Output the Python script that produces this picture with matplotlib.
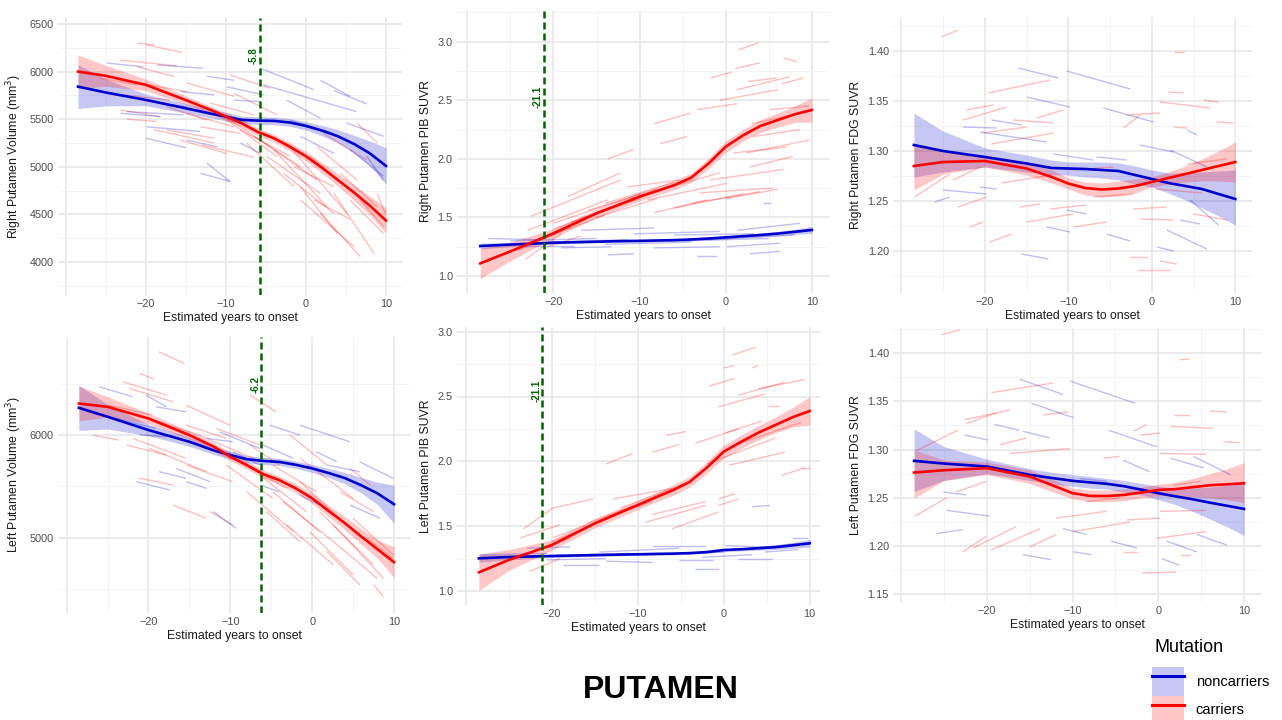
import matplotlib.pyplot as plt
from matplotlib.collections import LineCollection
from matplotlib.lines import Line2D
from matplotlib.patches import Patch
from matplotlib.ticker import FixedLocator, FormatStrFormatter

plt.rcParams["font.family"] = ["Liberation Sans", "DejaVu Sans"]

RED = "#ff0000"
BLUE = "#0000cd"
GREEN = "#006400"

# smooth fits are read at these years-to-onset values
curve_x = [-28.5, -25, -20, -15, -12, -10, -8, -6, -4, -2, 0, 2, 4, 6, 8, 10]

# ---- Right putamen volume
rvol_car = [6000, 5955, 5860, 5700, 5600, 5527, 5455, 5365, 5300, 5210, 5110, 4990, 4860, 4730, 4590, 4435]
rvol_car_hw = [175, 110, 60, 45, 40, 40, 40, 40, 40, 45, 50, 55, 65, 80, 100, 130]
rvol_non = [5842, 5780, 5702, 5614, 5560, 5527, 5492, 5485, 5482, 5465, 5429, 5380, 5320, 5240, 5140, 5009]
rvol_non_hw = [230, 140, 60, 50, 45, 45, 40, 40, 40, 40, 45, 55, 70, 90, 130, 190]
rvol_car_segs = [
    (-21.1, 6300, -19.0, 6280), (-19.9, 6280, -15.5, 6200), (-23.2, 6120, -16.1, 6060),
    (-21.1, 6050, -16.5, 5950), (-25.7, 5930, -21.1, 5860), (-22.4, 5500, -18.6, 5475),
    (-19.0, 5390, -11.5, 5250), (-15.7, 5280, -9.9, 5140), (-14.9, 5880, -9.0, 5740),
    (-12.0, 5670, -6.5, 5545), (-9.5, 5965, -4.5, 5825), (-9.0, 5770, -3.6, 5545),
    (-8.2, 5390, -2.0, 5110), (-6.5, 5320, -0.7, 5000), (-5.7, 5280, 1.4, 4860),
    (-4.9, 5110, 1.8, 4720), (-2.8, 4930, 3.5, 4510), (-1.5, 5000, 3.5, 4790),
    (-0.7, 4790, 3.9, 4300), (1.4, 5210, 6.4, 4860), (2.2, 5350, 7.6, 5070),
    (3.5, 4720, 8.5, 4090), (5.5, 4650, 9.7, 4300), (6.4, 5460, 8.9, 5250),
    (8.9, 4720, 9.9, 4510), (4.3, 4930, 8.9, 4580), (0.5, 5110, 6.0, 4720),
    (-22.8, 5755, -17.0, 5700), (-14.9, 5560, -9.0, 5420), (-17.4, 5630, -12.4, 5490),
    (-13.0, 5230, -6.5, 5100), (1.0, 4650, 5.5, 4450), (-11.5, 5597, -5.7, 5282),
    (-9.9, 5492, -3.6, 5107), (-7.4, 5247, -1.5, 4792), (-4.0, 5177, 2.6, 4582),
    (-2.4, 5247, 5.1, 4512), (-0.7, 4652, 6.0, 4162), (1.8, 4512, 6.8, 4057),
    (6.8, 4652, 9.7, 4372), (-23.2, 5597, -18.2, 5527), (-17.4, 5387, -11.5, 5300),
    (-20.7, 5877, -14.9, 5790), (-13.2, 5420, -8.2, 5350),
]
rvol_non_segs = [
    (-24.9, 6090, -20.3, 6050), (-18.6, 6070, -12.8, 6035), (-15.7, 5790, -11.5, 5755),
    (-22.4, 5580, -15.3, 5545), (-19.9, 5420, -13.2, 5370), (-14.9, 5280, -11.1, 5210),
    (-12.4, 5040, -9.5, 4845), (-9.9, 5840, -5.3, 5755), (-9.0, 5700, -5.7, 5685),
    (-5.7, 6035, 1.0, 5810), (-5.3, 5860, 6.3, 5580), (-2.4, 5700, 1.8, 5510),
    (-2.0, 5490, 3.5, 5350), (5.1, 5460, 9.7, 5320), (5.5, 5180, 9.7, 4900),
    (-0.7, 5320, 3.5, 5140), (-8.2, 5250, -5.7, 5140), (-18.2, 5670, -14.9, 5630),
    (-12.4, 5950, -9.0, 5910), (1.8, 5910, 5.5, 5740), (7.6, 5110, 9.7, 4860),
    (-20.0, 5300, -15.0, 5200), (-23.2, 5562, -18.2, 5527), (-13.2, 4932, -9.5, 4845),
    (3.5, 5800, 7.6, 5660),
]

# ---- Right putamen PIB SUVR
rpib_car = [1.108, 1.21, 1.364, 1.535, 1.62, 1.677, 1.725, 1.775, 1.84, 1.96, 2.104, 2.2, 2.28, 2.33, 2.38, 2.417]
rpib_car_hw = [0.13, 0.08, 0.04, 0.035, 0.035, 0.035, 0.035, 0.04, 0.04, 0.045, 0.05, 0.05, 0.055, 0.06, 0.07, 0.105]
rpib_non = [1.256, 1.268, 1.284, 1.293, 1.298, 1.30, 1.303, 1.306, 1.312, 1.32, 1.33, 1.34, 1.35, 1.362, 1.377, 1.393]
rpib_non_hw = [0.025, 0.018, 0.012, 0.01, 0.01, 0.01, 0.01, 0.01, 0.01, 0.01, 0.012, 0.013, 0.015, 0.018, 0.022, 0.03]
rpib_car_segs = [
    (1.5, 2.93, 3.8, 2.99), (-1.8, 2.69, 0.7, 2.74), (1.1, 2.77, 4.0, 2.82),
    (6.7, 2.86, 8.2, 2.83), (2.6, 2.66, 5.9, 2.69), (1.3, 2.59, 7.4, 2.70),
    (-0.7, 2.50, 6.1, 2.59), (-3.3, 2.42, 1.3, 2.47), (-8.3, 2.30, -4.1, 2.39),
    (-7.6, 2.13, -4.5, 2.19), (-13.7, 2.00, -10.7, 2.08), (0.9, 2.05, 7.0, 2.10),
    (2.8, 1.93, 7.8, 2.02), (-1.8, 1.82, 6.7, 1.91), (-3.0, 1.71, 5.5, 1.75),
    (-6.4, 1.76, -0.7, 1.88), (-18.3, 1.68, -12.2, 1.88), (-22.6, 1.51, -12.2, 1.82),
    (-23.0, 1.39, -13.7, 1.65), (-21.8, 1.31, -16.0, 1.51), (-11.4, 1.76, -5.3, 1.82),
    (-9.1, 1.65, 0.1, 1.79), (2.4, 2.05, 9.7, 2.16), (3.2, 2.19, 8.6, 2.25),
    (5.1, 2.42, 9.7, 2.45), (-20.7, 1.25, -16.8, 1.34), (-23.3, 1.14, -19.1, 1.36),
    (-8.3, 1.54, -2.2, 1.65), (6.5, 2.64, 9.0, 2.69), (-20.0, 1.45, -10.0, 1.70),
    (-15.0, 1.50, -8.0, 1.66), (-20.0, 1.40, -12.0, 1.62), (-18.0, 1.46, -10.0, 1.66),
    (-16.0, 1.56, -8.0, 1.74), (-14.0, 1.62, -6.0, 1.80), (-6.0, 1.58, 2.0, 1.70),
    (-4.0, 1.62, 4.0, 1.72), (0.0, 1.66, 6.0, 1.74), (-22.0, 1.30, -14.0, 1.52),
    (-24.0, 1.22, -18.0, 1.42), (3.0, 2.30, 9.5, 2.40),
]
rpib_non_segs = [
    (-27.6, 1.32, -21.8, 1.31), (-20.7, 1.29, -11.4, 1.31), (-19.1, 1.24, -13.3, 1.25),
    (-13.7, 1.18, -10.7, 1.19), (-10.7, 1.36, -0.7, 1.38), (-8.3, 1.24, -0.7, 1.25),
    (-3.3, 1.17, -1.0, 1.17), (0.1, 1.25, 6.3, 1.28), (1.3, 1.39, 8.6, 1.45),
    (4.3, 1.62, 5.3, 1.62), (2.8, 1.19, 6.3, 1.21), (-16.8, 1.39, -8.3, 1.41),
    (-6.0, 1.35, 3.2, 1.36), (-23.7, 1.26, -17.6, 1.26), (-25.0, 1.30, -15.0, 1.32),
    (-5.0, 1.30, 5.0, 1.32), (-22.0, 1.28, -12.0, 1.30), (-14.0, 1.27, -4.0, 1.29),
    (-2.0, 1.31, 8.0, 1.35), (3.0, 1.34, 9.5, 1.39),
]

# ---- Right putamen FDG SUVR
rfdg_car = [1.285, 1.289, 1.290, 1.2825, 1.274, 1.2675, 1.263, 1.2615, 1.2625, 1.265, 1.269, 1.273, 1.277, 1.281, 1.285, 1.289]
rfdg_car_lo = [1.261, 1.277, 1.284, 1.276, 1.268, 1.262, 1.256, 1.254, 1.255, 1.258, 1.264, 1.267, 1.269, 1.270, 1.270, 1.269]
rfdg_car_hi = [1.306, 1.299, 1.296, 1.289, 1.281, 1.273, 1.269, 1.268, 1.270, 1.272, 1.274, 1.279, 1.285, 1.292, 1.300, 1.309]
rfdg_non = [1.306, 1.300, 1.294, 1.2875, 1.283, 1.2825, 1.282, 1.281, 1.280, 1.276, 1.272, 1.268, 1.265, 1.262, 1.257, 1.252]
rfdg_non_lo = [1.274, 1.279, 1.284, 1.279, 1.276, 1.276, 1.274, 1.273, 1.271, 1.267, 1.264, 1.258, 1.251, 1.243, 1.235, 1.226]
rfdg_non_hi = [1.338, 1.320, 1.303, 1.296, 1.291, 1.289, 1.289, 1.289, 1.288, 1.285, 1.281, 1.278, 1.278, 1.279, 1.280, 1.281]
rfdg_car_segs = [
    (-25.2, 1.414, -23.2, 1.421), (-19.6, 1.358, -12.2, 1.371), (-22.6, 1.331, -17.4, 1.344),
    (-22.2, 1.341, -19.0, 1.346), (-13.8, 1.333, -10.6, 1.341), (-16.6, 1.331, -11.8, 1.328),
    (-20.2, 1.318, -15.0, 1.324), (-19.2, 1.307, -11.8, 1.318), (-28.4, 1.254, -24.2, 1.277),
    (-23.8, 1.271, -20.6, 1.284), (-23.2, 1.244, -19.8, 1.254), (-21.8, 1.224, -20.2, 1.229),
    (-19.4, 1.209, -16.8, 1.217), (-15.8, 1.244, -13.4, 1.247), (-15.0, 1.229, -9.4, 1.237),
    (-9.4, 1.224, -5.4, 1.229), (-12.2, 1.242, -7.8, 1.246), (-3.4, 1.323, -1.4, 1.336),
    (-3.0, 1.336, 1.0, 1.338), (-2.2, 1.242, 1.8, 1.244), (-1.4, 1.232, 2.6, 1.231),
    (-2.6, 1.194, -0.6, 1.194), (-1.8, 1.181, 2.2, 1.181), (1.0, 1.349, 7.0, 1.343),
    (2.0, 1.359, 3.8, 1.358), (6.2, 1.351, 8.0, 1.349), (2.6, 1.399, 3.8, 1.399),
    (7.8, 1.329, 9.8, 1.328), (4.2, 1.287, 9.0, 1.292), (5.0, 1.237, 9.0, 1.231),
    (-7.0, 1.254, -2.2, 1.257), (2.6, 1.324, 4.2, 1.323), (-9.4, 1.281, -4.6, 1.284),
    (1.0, 1.190, 3.0, 1.187), (-18.0, 1.268, -12.0, 1.276), (0.5, 1.262, 6.0, 1.258),
]
rfdg_non_segs = [
    (-16.0, 1.383, -11.2, 1.373), (-10.2, 1.380, -2.6, 1.362), (-15.0, 1.354, -9.8, 1.344),
    (-5.8, 1.343, 0.2, 1.329), (-19.2, 1.331, -15.6, 1.326), (-22.6, 1.324, -18.6, 1.323),
    (-20.6, 1.319, -12.6, 1.309), (-25.0, 1.261, -19.8, 1.257), (-26.0, 1.249, -24.2, 1.254),
    (-15.6, 1.197, -12.4, 1.192), (-12.6, 1.224, -9.8, 1.219), (-10.2, 1.241, -7.8, 1.237),
    (-5.4, 1.217, -2.6, 1.210), (0.6, 1.204, 2.6, 1.200), (2.2, 1.301, 6.6, 1.284),
    (4.2, 1.321, 5.4, 1.316), (1.8, 1.221, 6.6, 1.202), (4.6, 1.251, 8.0, 1.226),
    (3.4, 1.231, 5.8, 1.227), (-1.4, 1.306, 2.6, 1.299), (-6.6, 1.294, -3.0, 1.291),
    (-20.6, 1.264, -18.6, 1.262), (-11.8, 1.297, -7.0, 1.291),
]

# ---- Left putamen volume
lvol_car = [6308, 6276, 6162, 6000, 5886, 5789, 5708, 5620, 5560, 5480, 5383, 5260, 5140, 5010, 4885, 4760]
lvol_car_hw = [170, 100, 50, 40, 40, 40, 40, 40, 40, 45, 50, 55, 65, 75, 90, 150]
lvol_non = [6266, 6179, 6049, 5935, 5850, 5805, 5765, 5748, 5738, 5710, 5675, 5630, 5580, 5510, 5430, 5325]
lvol_non_hw = [220, 120, 55, 45, 40, 40, 35, 35, 35, 35, 40, 45, 55, 75, 110, 185]
lvol_car_segs = [
    (-18.7, 6812, -15.6, 6698), (-21.1, 6601, -19.3, 6545), (-23.1, 6520, -17.8, 6390),
    (-22.3, 6455, -17.0, 6325), (-24.8, 6292, -19.5, 6195), (-26.8, 6000, -23.6, 5951),
    (-21.9, 5968, -15.4, 5773), (-19.9, 5870, -12.9, 5643), (-15.4, 6292, -10.1, 6097),
    (-13.8, 6000, -7.2, 5773), (-11.7, 6065, -6.4, 5903), (-9.7, 5773, -3.1, 5480),
    (-21.1, 5578, -17.0, 5513), (-17.0, 5318, -12.9, 5188), (-12.5, 5253, -9.7, 5123),
    (-7.6, 5903, -4.0, 5708), (-7.6, 6390, -4.4, 6227), (-6.4, 5610, -0.7, 5253),
    (-4.8, 5448, 0.9, 5058), (-3.6, 5351, 2.6, 4961), (-2.7, 6000, 1.8, 5708),
    (-1.5, 5773, 5.0, 5383), (-0.3, 5058, 5.0, 4636), (0.9, 5253, 7.5, 4734),
    (2.6, 5123, 8.7, 4604), (3.4, 5448, 7.5, 5253), (4.6, 5675, 7.1, 5513),
    (6.7, 4993, 9.9, 4799), (7.5, 4539, 8.7, 4425), (1.8, 4864, 5.8, 4539),
    (-5.6, 5253, -1.5, 4961), (-15.4, 5708, -9.7, 5545), (-18.7, 6130, -13.8, 6000),
    (-10.5, 5708, -4.8, 5383), (-8.0, 5448, -2.3, 5058), (-3.1, 5123, 2.6, 4734),
    (-1.5, 5545, 4.2, 5123), (2.6, 4961, 7.9, 4604), (5.0, 5188, 9.9, 4831),
    (-15.4, 6097, -10.5, 5968), (-22.7, 5903, -17.8, 5805), (-4.8, 5708, 0.5, 5448),
]
lvol_non_segs = [
    (-26.0, 6471, -21.9, 6373), (-20.3, 6390, -17.8, 6276), (-19.1, 6276, -15.4, 6227),
    (-24.0, 6162, -19.1, 6065), (-21.1, 6000, -17.8, 5984), (-21.5, 5545, -17.4, 5464),
    (-18.7, 5643, -15.4, 5578), (-16.6, 5675, -12.5, 5545), (-12.1, 5253, -9.3, 5091),
    (-11.3, 6032, -6.4, 5870), (-9.7, 5838, -6.4, 5708), (-6.0, 5903, -2.3, 5773),
    (-6.4, 5513, -4.0, 5448), (-5.2, 6097, -1.5, 6000), (-1.5, 6097, 4.6, 5935),
    (0.5, 5838, 3.0, 5740), (1.8, 5708, 5.8, 5643), (5.8, 5740, 9.9, 5578),
    (4.6, 5318, 8.3, 5188), (-1.5, 5415, 0.9, 5318), (-12.9, 5968, -9.7, 5935),
    (-15.4, 5545, -12.9, 5480),
]

# ---- Left putamen PIB SUVR
lpib_car = [1.144, 1.24, 1.355, 1.522, 1.607, 1.663, 1.72, 1.775, 1.84, 1.95, 2.075, 2.15, 2.22, 2.28, 2.34, 2.388]
lpib_car_hw = [0.14, 0.08, 0.04, 0.035, 0.035, 0.035, 0.035, 0.04, 0.04, 0.045, 0.05, 0.05, 0.055, 0.06, 0.075, 0.11]
lpib_non = [1.252, 1.262, 1.270, 1.277, 1.281, 1.283, 1.286, 1.288, 1.292, 1.30, 1.316, 1.322, 1.33, 1.338, 1.352, 1.368]
lpib_non_hw = [0.03, 0.02, 0.012, 0.01, 0.01, 0.01, 0.01, 0.01, 0.01, 0.01, 0.012, 0.013, 0.015, 0.018, 0.022, 0.03]
lpib_car_segs = [
    (1.0, 2.82, 3.7, 2.88), (3.3, 2.72, 4.0, 2.74), (0.0, 2.72, 1.2, 2.74),
    (-1.7, 2.58, 1.3, 2.64), (-0.6, 2.42, 4.8, 2.52), (1.7, 2.51, 7.1, 2.61),
    (4.0, 2.56, 9.4, 2.63), (5.2, 2.43, 6.4, 2.43), (0.2, 2.22, 4.4, 2.31),
    (-3.3, 2.14, 1.7, 2.25), (-6.7, 2.20, -4.4, 2.23), (-8.3, 2.07, -5.2, 2.13),
    (-13.7, 1.98, -10.6, 2.06), (0.6, 1.97, 7.1, 2.07), (6.7, 1.89, 9.4, 1.95),
    (-9.1, 1.53, -2.1, 1.66), (-8.3, 1.59, -2.1, 1.69), (-0.6, 1.71, 1.3, 1.75),
    (-6.0, 1.48, -0.6, 1.61), (-19.9, 1.64, -15.2, 1.71), (-23.3, 1.48, -19.9, 1.64),
    (-23.7, 1.41, -19.1, 1.51), (-22.9, 1.28, -17.9, 1.41), (-22.6, 1.15, -19.1, 1.25),
    (-19.9, 1.41, -16.0, 1.51), (-12.9, 1.71, -6.0, 1.79), (-0.6, 1.66, 1.7, 1.71),
    (9.1, 1.95, 10.0, 1.95), (-12.1, 1.61, -8.3, 1.69), (-20.0, 1.38, -12.0, 1.60),
    (-16.0, 1.52, -8.0, 1.72), (-12.0, 1.64, -4.0, 1.84), (1.0, 2.12, 9.0, 2.30),
    (-2.0, 1.98, 6.0, 2.18),
]
lpib_non_segs = [
    (-28.3, 1.28, -20.6, 1.29), (-22.9, 1.33, -17.9, 1.34), (-20.6, 1.24, -13.7, 1.25),
    (-18.7, 1.20, -14.5, 1.20), (-13.7, 1.23, -8.3, 1.22), (-14.5, 1.30, -5.2, 1.33),
    (-8.3, 1.35, -2.1, 1.35), (-5.2, 1.24, -1.3, 1.24), (-3.3, 1.17, -0.6, 1.17),
    (-2.5, 1.26, 3.3, 1.28), (0.2, 1.35, 4.4, 1.34), (3.3, 1.65, 5.4, 1.66),
    (4.8, 1.30, 8.7, 1.32), (7.9, 1.41, 9.8, 1.41), (1.7, 1.25, 5.6, 1.25),
    (-21.0, 1.27, -11.0, 1.29), (-10.0, 1.28, 0.0, 1.30), (2.0, 1.32, 9.5, 1.37),
]

# ---- Left putamen FDG SUVR
lfdg_car = [1.2762, 1.2786, 1.2807, 1.272, 1.2617, 1.2548, 1.252, 1.2518, 1.253, 1.2555, 1.2582, 1.259, 1.261, 1.263, 1.264, 1.2651]
lfdg_car_lo = [1.2496, 1.268, 1.274, 1.265, 1.255, 1.249, 1.246, 1.246, 1.247, 1.250, 1.252, 1.252, 1.251, 1.250, 1.248, 1.245]
lfdg_car_hi = [1.2997, 1.289, 1.287, 1.279, 1.268, 1.260, 1.258, 1.258, 1.259, 1.261, 1.264, 1.266, 1.270, 1.275, 1.280, 1.2865]
lfdg_non = [1.2883, 1.2855, 1.2824, 1.2738, 1.270, 1.2676, 1.266, 1.2645, 1.262, 1.2585, 1.2548, 1.2515, 1.2485, 1.245, 1.2418, 1.2385]
lfdg_non_lo = [1.2565, 1.268, 1.275, 1.268, 1.264, 1.262, 1.260, 1.259, 1.256, 1.253, 1.248, 1.243, 1.236, 1.228, 1.220, 1.211]
lfdg_non_hi = [1.3215, 1.303, 1.290, 1.280, 1.276, 1.274, 1.272, 1.270, 1.268, 1.265, 1.262, 1.260, 1.260, 1.261, 1.263, 1.265]
lfdg_car_segs = [
    (-25.3, 1.419, -23.2, 1.424), (-19.5, 1.359, -12.3, 1.369), (-22.6, 1.331, -17.3, 1.341),
    (-22.4, 1.327, -18.9, 1.338), (-13.4, 1.336, -10.5, 1.339), (-28.2, 1.299, -23.4, 1.320),
    (-18.5, 1.305, -15.4, 1.312), (-17.3, 1.296, -10.3, 1.301), (-28.4, 1.231, -24.7, 1.250),
    (-23.6, 1.256, -20.1, 1.267), (-22.8, 1.194, -20.1, 1.210), (-21.6, 1.198, -16.6, 1.220),
    (-19.5, 1.196, -13.8, 1.218), (-15.0, 1.199, -11.9, 1.212), (-11.9, 1.229, -6.0, 1.236),
    (-9.9, 1.215, -3.3, 1.225), (-8.4, 1.246, -4.5, 1.250), (-2.9, 1.319, -1.4, 1.326),
    (-2.1, 1.315, 0.2, 1.317), (-1.9, 1.172, 2.1, 1.173), (2.5, 1.393, 3.7, 1.394),
    (1.8, 1.336, 3.7, 1.336), (6.0, 1.340, 8.0, 1.339), (1.4, 1.324, 6.4, 1.322),
    (7.6, 1.308, 9.5, 1.307), (0.2, 1.296, 5.6, 1.295), (1.8, 1.263, 4.9, 1.267),
    (0.2, 1.236, 5.6, 1.237), (-0.2, 1.208, 5.6, 1.215), (2.5, 1.191, 3.7, 1.191),
    (-4.1, 1.194, -2.5, 1.194), (-6.4, 1.291, -4.5, 1.293), (-3.7, 1.227, 0.2, 1.229),
]
lfdg_non_segs = [
    (-16.2, 1.373, -11.1, 1.357), (-10.3, 1.371, -2.7, 1.348), (-14.8, 1.348, -9.9, 1.333),
    (-5.8, 1.320, -0.2, 1.303), (-19.1, 1.326, -16.2, 1.320), (-22.6, 1.315, -19.9, 1.310),
    (-15.8, 1.319, -12.7, 1.312), (-25.9, 1.213, -22.8, 1.217), (-24.7, 1.237, -19.7, 1.231),
    (-15.8, 1.191, -12.5, 1.186), (-11.1, 1.218, -8.4, 1.212), (-9.9, 1.194, -7.8, 1.191),
    (-5.5, 1.205, -2.5, 1.198), (0.4, 1.187, 2.5, 1.180), (1.4, 1.291, 5.3, 1.281),
    (4.1, 1.293, 8.4, 1.274), (1.0, 1.205, 4.5, 1.194), (4.5, 1.212, 8.0, 1.201),
    (-4.1, 1.289, -1.0, 1.277), (-9.2, 1.270, -6.0, 1.267), (-25.1, 1.256, -22.4, 1.253),
]

# onset-of-divergence markers (None = no marker)
onsets = [-5.8, -21.1, None, -6.2, -21.1, None]


def band(mean, hw):
    return [m - h for m, h in zip(mean, hw)], [m + h for m, h in zip(mean, hw)]


panels = [
    dict(car=rvol_car, car_band=band(rvol_car, rvol_car_hw), non=rvol_non, non_band=band(rvol_non, rvol_non_hw),
         car_segs=rvol_car_segs, non_segs=rvol_non_segs, ylabel="Right Putamen Volume (mm$^3$)"),
    dict(car=rpib_car, car_band=band(rpib_car, rpib_car_hw), non=rpib_non, non_band=band(rpib_non, rpib_non_hw),
         car_segs=rpib_car_segs, non_segs=rpib_non_segs, ylabel="Right Putamen PIB SUVR"),
    dict(car=rfdg_car, car_band=(rfdg_car_lo, rfdg_car_hi), non=rfdg_non, non_band=(rfdg_non_lo, rfdg_non_hi),
         car_segs=rfdg_car_segs, non_segs=rfdg_non_segs, ylabel="Right Putamen FDG SUVR"),
    dict(car=lvol_car, car_band=band(lvol_car, lvol_car_hw), non=lvol_non, non_band=band(lvol_non, lvol_non_hw),
         car_segs=lvol_car_segs, non_segs=lvol_non_segs, ylabel="Left Putamen Volume (mm$^3$)"),
    dict(car=lpib_car, car_band=band(lpib_car, lpib_car_hw), non=lpib_non, non_band=band(lpib_non, lpib_non_hw),
         car_segs=lpib_car_segs, non_segs=lpib_non_segs, ylabel="Left Putamen PIB SUVR"),
    dict(car=lfdg_car, car_band=(lfdg_car_lo, lfdg_car_hi), non=lfdg_non, non_band=(lfdg_non_lo, lfdg_non_hi),
         car_segs=lfdg_car_segs, non_segs=lfdg_non_segs, ylabel="Left Putamen FDG SUVR"),
]

# layout: pixel boxes (left, top, right, bottom), axis limits, y ticks
W, H = 1282, 720
layout = [
    dict(box=(58, 18, 402, 295), xlim=(-31, 12), ylim=(3653, 6563),
         yt=[4000, 4500, 5000, 5500, 6000, 6500], ym=[3750, 4250, 4750, 5250, 5750, 6250], fmt="%d", lab_y=6170),
    dict(box=(457, 10, 830, 293), xlim=(-31.2, 12.1), ylim=(0.855, 3.27),
         yt=[1.0, 1.5, 2.0, 2.5, 3.0], ym=[1.25, 1.75, 2.25, 2.75, 3.25], fmt="%.1f", lab_y=2.53),
    dict(box=(893, 17, 1252, 293), xlim=(-31, 12), ylim=(1.158, 1.434),
         yt=[1.20, 1.25, 1.30, 1.35, 1.40], ym=[1.175, 1.225, 1.275, 1.325, 1.375, 1.425], fmt="%.2f", lab_y=None),
    dict(box=(58, 337, 410, 613), xlim=(-31.05, 11.95), ylim=(4264, 6957),
         yt=[5000, 6000], ym=[4500, 5500, 6500], fmt="%d", lab_y=6490),
    dict(box=(457, 327, 820, 605), xlim=(-31.05, 11.2), ylim=(0.892, 3.036),
         yt=[1.0, 1.5, 2.0, 2.5, 3.0], ym=[1.25, 1.75, 2.25, 2.75], fmt="%.1f", lab_y=2.54),
    dict(box=(893, 328, 1262, 602), xlim=(-30.96, 12.1), ylim=(1.142, 1.426),
         yt=[1.15, 1.20, 1.25, 1.30, 1.35, 1.40], ym=[1.175, 1.225, 1.275, 1.325, 1.375, 1.425], fmt="%.2f", lab_y=None),
]

fig = plt.figure(figsize=(W / 100, H / 100), dpi=100)

for p, lay, onset in zip(panels, layout, onsets):
    l, t, r, b = lay["box"]
    ax = fig.add_axes([l / W, 1 - b / H, (r - l) / W, (b - t) / H])

    for segs, col in ((p["car_segs"], RED), (p["non_segs"], BLUE)):
        lines = [[(x0, y0), (x1, y1)] for x0, y0, x1, y1 in segs]
        ax.add_collection(LineCollection(lines, colors=col, alpha=0.25, linewidths=1.0))

    ax.fill_between(curve_x, *p["non_band"], color=BLUE, alpha=0.22, lw=0)
    ax.plot(curve_x, p["non"], color=BLUE, lw=1.9)
    ax.fill_between(curve_x, *p["car_band"], color=RED, alpha=0.22, lw=0)
    ax.plot(curve_x, p["car"], color=RED, lw=1.9)

    if onset is not None:
        ax.axvline(onset, color=GREEN, lw=1.8, ls=(0, (2.8, 1.6)))
        ax.text(onset - 0.7, lay["lab_y"], f"{onset}", rotation=90, color=GREEN,
                fontsize=7, fontweight="bold", ha="center", va="center")

    ax.set_xlim(*lay["xlim"])
    ax.set_ylim(*lay["ylim"])
    ax.xaxis.set_major_locator(FixedLocator([-30, -20, -10, 0, 10]))
    ax.set_xticklabels(["", "\u221220", "\u221210", "0", "10"])
    ax.xaxis.set_minor_locator(FixedLocator([-25, -15, -5, 5]))
    ax.yaxis.set_major_locator(FixedLocator(lay["yt"]))
    ax.yaxis.set_major_formatter(FormatStrFormatter(lay["fmt"]))
    ax.yaxis.set_minor_locator(FixedLocator(lay["ym"]))
    ax.grid(which="major", color="#e6e6e6", lw=1.1)
    ax.grid(which="minor", color="#f3f3f3", lw=0.6)
    ax.set_axisbelow(True)
    for s in ax.spines.values():
        s.set_visible(False)
    ax.tick_params(which="both", length=0, labelsize=7.8, labelcolor="#4d4d4d", pad=3)
    ax.set_xlabel("Estimated years to onset", fontsize=8.8, color="#1a1a1a", labelpad=2)
    ax.set_ylabel(p["ylabel"], fontsize=8.8, color="#1a1a1a", labelpad=4)

fig.text(661 / W, 1 - 690 / H, "PUTAMEN", fontsize=23, fontweight="bold", ha="center", va="center")

# legend: title drawn separately so the keys sit lower, as in the original
fig.text(1154 / W, 1 - 648 / H, "Mutation", fontsize=13, ha="left", va="center")
handles = [
    (Patch(facecolor=BLUE, alpha=0.22, lw=0), Line2D([], [], color=BLUE, lw=2.2)),
    (Patch(facecolor=RED, alpha=0.22, lw=0), Line2D([], [], color=RED, lw=2.2)),
]
fig.legend(handles, ["noncarriers", "carriers"], loc="upper left",
           bbox_to_anchor=(1152 / W, 1 - 667 / H), frameon=False, fontsize=10.5,
           handlelength=2.2, handleheight=2.65, labelspacing=0.0,
           handletextpad=0.8, borderaxespad=0, borderpad=0)

fig.savefig("out.png", dpi=100)
